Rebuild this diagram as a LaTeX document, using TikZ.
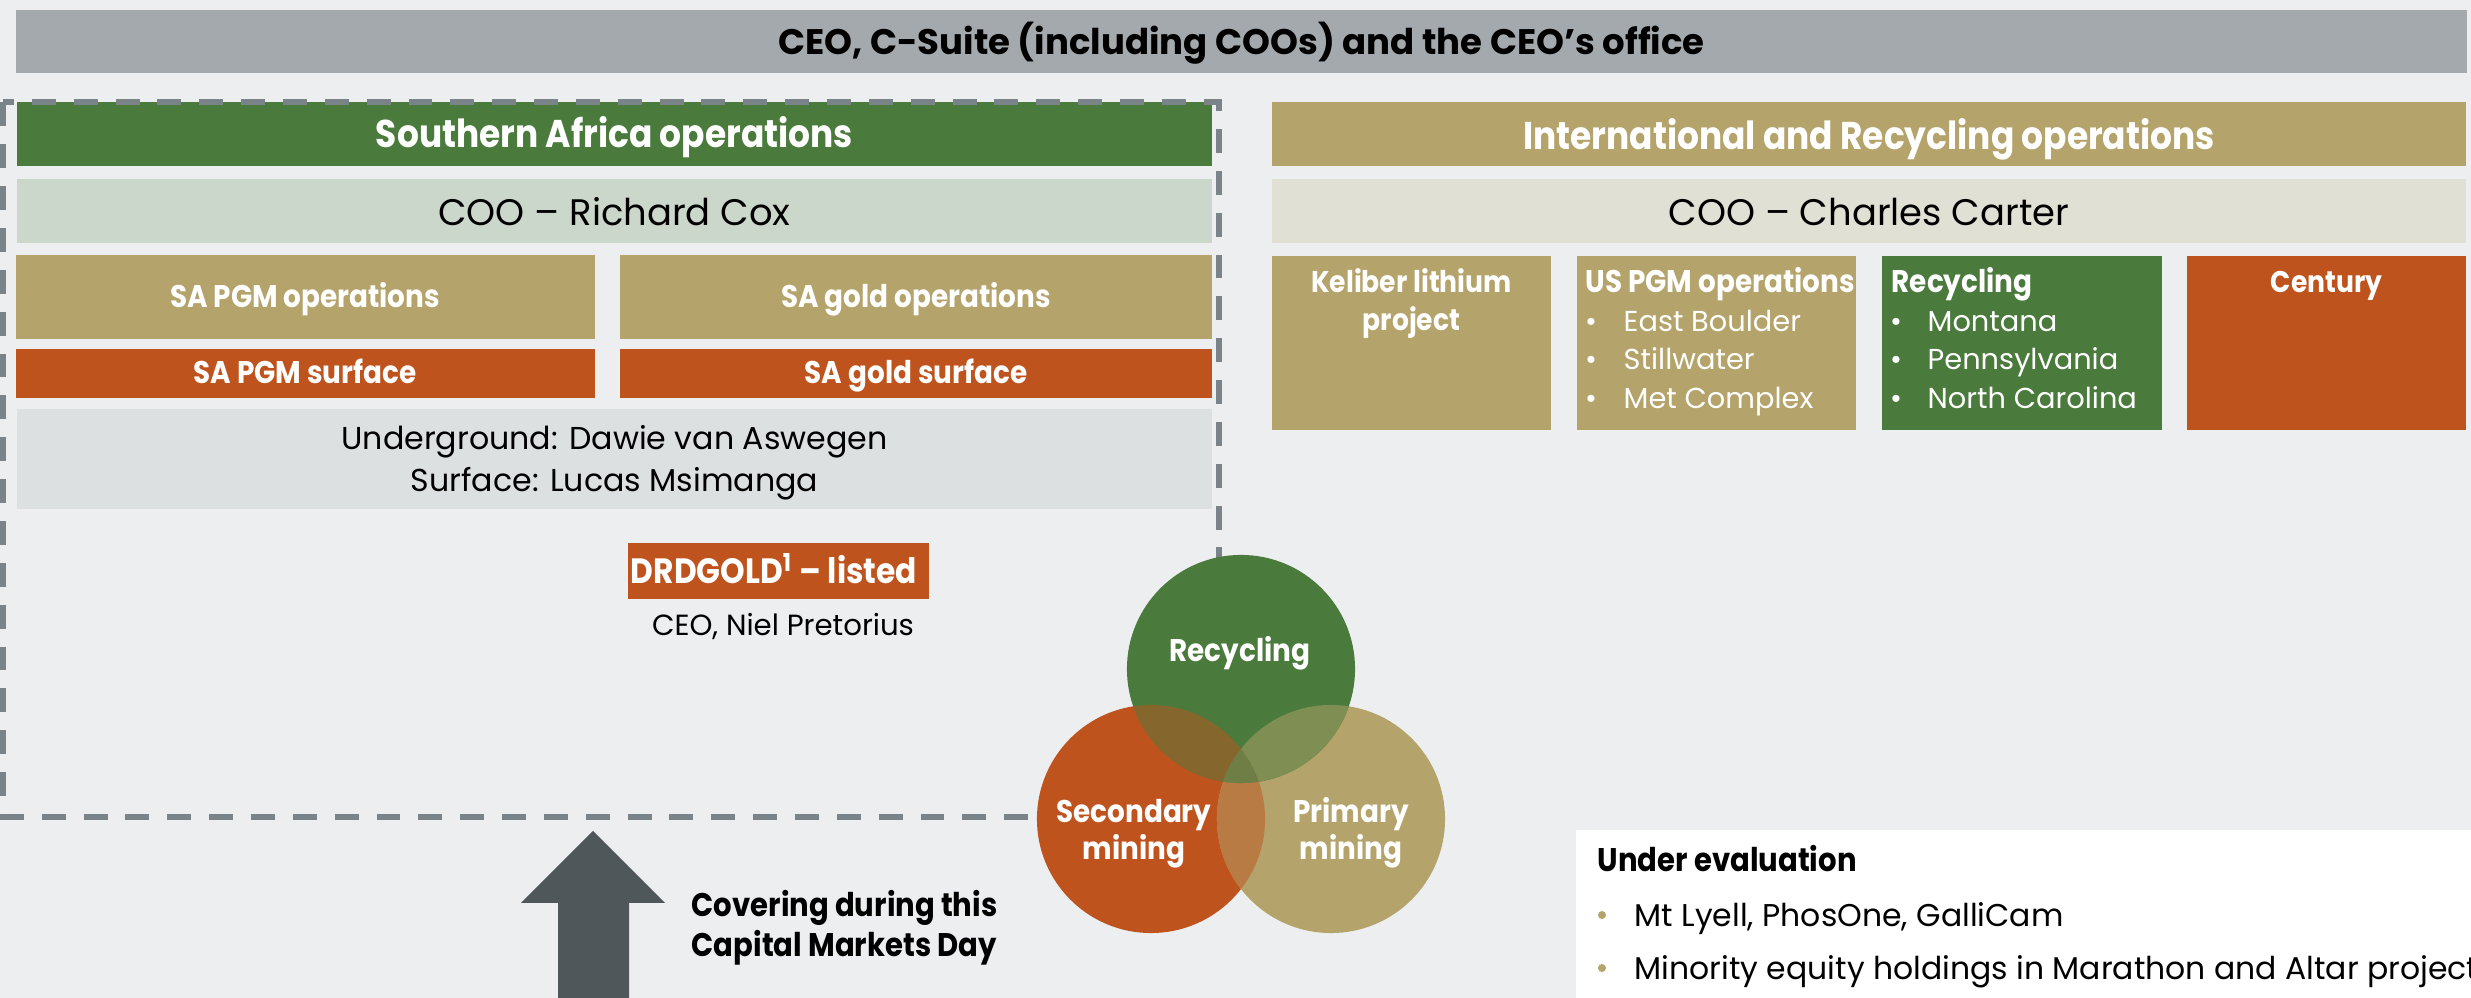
\documentclass[tikz,border=0pt]{standalone}
\usepackage{fontspec}
\setmainfont{Poppins}[BoldFeatures={FakeStretch=0.89}]
\newfontfamily\titlefont{Poppins}
\usetikzlibrary{positioning}

\definecolor{pagebg}{HTML}{EDEEF0}
\definecolor{ceogray}{HTML}{A3A9AC}
\definecolor{opgreen}{HTML}{4A7A3C}
\definecolor{optan}{HTML}{B4A36A}
\definecolor{oporange}{HTML}{BF531D}
\definecolor{coogreen}{HTML}{CCD7CC}
\definecolor{cootan}{HTML}{E0E0D4}
\definecolor{namegray}{HTML}{DCE0E0}
\definecolor{dashgray}{HTML}{7A8388}
\definecolor{arrowgray}{HTML}{50575A}
\colorlet{mixso}{oporange!50!optan}
\colorlet{mixrs}{opgreen!50!oporange}
\colorlet{mixrp}{opgreen!50!optan}
\definecolor{mixall}{HTML}{6E7E45}

\newcommand{\fnTitle}{\titlefont\fontsize{10.1}{12}\selectfont\bfseries}
\newcommand{\fnHead}{\fontsize{11}{13}\selectfont\bfseries}
\newcommand{\fnCoo}{\fontsize{10.5}{13}\selectfont}
\newcommand{\fnTag}{\fontsize{8.9}{10.8}\selectfont\bfseries}
\newcommand{\fnSmallTag}{\fontsize{8.5}{10.8}\selectfont\bfseries}
\newcommand{\fnItem}{\fontsize{8.2}{10}\selectfont}
\newcommand{\fnName}{\fontsize{9}{11}\selectfont}
\newcommand{\fnCeo}{\fontsize{8.3}{10}\selectfont}
\newcommand{\fnCover}{\fontsize{9.3}{11}\selectfont\bfseries}
\newcommand{\fnEval}{\fontsize{9.3}{11}\selectfont\bfseries}
\newcommand{\fnEvalItem}{\fontsize{8.95}{11}\selectfont}

\begin{document}
\begin{tikzpicture}[x=0.01cm, y=-0.01cm,
    panel/.style={inner sep=0pt, outer sep=0pt},
    lbl/.style={inner sep=0pt, anchor=base},
    lblw/.style={inner sep=0pt, anchor=base west},
    venn/.style={circle, inner sep=0pt, minimum size=2.28cm}]
  \useasboundingbox (0,0) rectangle (2471,998);
  \fill[pagebg] (0,0) rectangle (2471,998);

  % Barra do CEO
  \node[panel, fill=ceogray, minimum width=24.49cm, minimum height=0.63cm] (ceo) at (1241.5,41.5) {};
  \node[lbl, font=\fnTitle] (ceot) at (1241.5,55) {CEO, C-Suite (including COOs) and the CEO’s office};

  % Southern Africa
  \node[panel, fill=opgreen, minimum width=11.95cm, minimum height=0.64cm] (sahd) at (614.5,134) {};
  \node[lbl, font=\fnHead, text=white] (sahdt) at (614.5,148) {Southern Africa operations};
  \node[panel, fill=coogreen, minimum width=11.95cm, minimum height=0.64cm] (sacoo) at (614.5,211) {};
  \node[lbl, font=\fnCoo] (sacoot) at (614.5,226) {COO -- Richard Cox};
  \node[panel, fill=optan, minimum width=5.78cm, minimum height=0.84cm] (pgm) at (305.5,297) {};
  \node[lbl, font=\fnTag, text=white] (pgmt) at (305,308) {SA PGM operations};
  \node[panel, fill=optan, minimum width=5.92cm, minimum height=0.84cm] (gold) at (916,297) {};
  \node[lbl, font=\fnTag, text=white] (goldt) at (916,308) {SA gold operations};
  \node[panel, fill=oporange, minimum width=5.78cm, minimum height=0.49cm] (pgms) at (305.5,373.5) {};
  \node[lbl, font=\fnTag, text=white] (pgmst) at (305,384) {SA PGM surface};
  \node[panel, fill=oporange, minimum width=5.92cm, minimum height=0.49cm] (golds) at (916,373.5) {};
  \node[lbl, font=\fnTag, text=white] (goldst) at (916,384) {SA gold surface};
  \node[panel, fill=namegray, minimum width=11.95cm, minimum height=1cm] (heads) at (614.5,459) {};
  \node[lbl, font=\fnName] (headsu) at (614.5,450) {Underground: Dawie van Aswegen};
  \node[lbl, font=\fnName] (headss) at (614.5,492) {Surface: Lucas Msimanga};
  \node[panel, fill=oporange, minimum width=3.01cm, minimum height=0.56cm] (drd) at (778.5,571) {};
  \node[lbl, font=\fontsize{10}{12}\selectfont\bfseries, text=white] (drdt) at (774,584) {DRDGOLD\textsuperscript{1} -- listed};
  \node[lbl, font=\fnCeo] (drdceo) at (783,636) {CEO, Niel Pretorius};

  % International and Recycling
  \node[panel, fill=optan, minimum width=11.94cm, minimum height=0.64cm] (inhd) at (1869,134) {};
  \node[lbl, font=\fnHead, text=white] (inhdt) at (1869,150) {International and Recycling operations};
  \node[panel, fill=cootan, minimum width=11.94cm, minimum height=0.64cm] (incoo) at (1869,211) {};
  \node[lbl, font=\fnCoo] (incoot) at (1869,226) {COO -- Charles Carter};
  \foreach \nm/\cx/\col in {kel/1411.5/optan, uspgm/1716.5/optan, recy/2022/opgreen, cent/2326.5/oporange}
    \node[panel, fill=\col, minimum width=2.79cm, minimum height=1.74cm] (\nm) at (\cx,343) {};
  \node[lbl, font=\fnSmallTag, text=white] (kelt) at (1411.5,293) {Keliber lithium};
  \node[lbl, font=\fnSmallTag, text=white] (kelt2) at (1411.5,331) {project};
  \node[lblw, font=\fnTag, text=white] (uspgmt) at (1585,293) {US PGM operations};
  \foreach \it [count=\i] in {East Boulder, Stillwater, Met Complex} {
    \node[lbl, font=\fnItem, text=white] (uspgmb\i) at (1591,293+38.5*\i) {•};
    \node[lblw, font=\fnItem, text=white] (uspgmi\i) at (1623,293+38.5*\i) {\it};
  }
  \node[lblw, font=\fnTag, text=white] (recyt) at (1891,293) {Recycling};
  \foreach \it [count=\i] in {Montana, Pennsylvania, North Carolina} {
    \node[lbl, font=\fnItem, text=white] (recyb\i) at (1896,293+38.5*\i) {•};
    \node[lblw, font=\fnItem, text=white] (recyi\i) at (1927,293+38.5*\i) {\it};
  }
  \node[lbl, font=\fnSmallTag, text=white] (centt) at (2326.5,293) {Century};

  % Caixa tracejada
  \draw[dashgray, line width=1.7pt, dash pattern=on 6.8pt off 5.1pt] (3,102.5) rectangle (1219,817);

  % Diagrama de Venn
  \foreach \nm/\cx/\cy/\col in {sec/1151/819/oporange, pri/1331/819/optan, rec/1241/669/opgreen}
    \node[venn, fill=\col] (\nm) at (\cx,\cy) {};
  \begin{scope}
    \clip (sec.center) circle (1.14cm);
    \fill[mixso] (pri.center) circle (1.14cm);
  \end{scope}
  \begin{scope}
    \clip (rec.center) circle (1.14cm);
    \fill[mixrs] (sec.center) circle (1.14cm);
    \fill[mixrp] (pri.center) circle (1.14cm);
    \clip (sec.center) circle (1.14cm);
    \fill[mixall] (pri.center) circle (1.14cm);
  \end{scope}
  \node[lbl, font=\fnTag, text=white] (rect) at (1240,662) {Recycling};
  \node[lbl, font=\fnTag, text=white] (sect) at (1134,823) {Secondary};
  \node[lbl, font=\fnTag, text=white] (sect2) at (1134,860) {mining};
  \node[lbl, font=\fnTag, text=white] (prit) at (1351,823) {Primary};
  \node[lbl, font=\fnTag, text=white] (prit2) at (1351,860) {mining};

  % Seta
  \fill[arrowgray] (593,831) -- (665,903) -- (629,903) -- (629,998) -- (558,998) -- (558,903) -- (521,903) -- cycle;
  \node[lblw, font=\fnCover] (covt) at (691,917) {Covering during this};
  \node[lblw, font=\fnCover] (covt2) at (691,957) {Capital Markets Day};

  % Em avaliação
  \node[panel, fill=white, anchor=north west, minimum width=8.95cm, minimum height=1.68cm] (eval) at (1576,830) {};
  \node[lblw, font=\fnEval] (evalt) at (1597,872) {Under evaluation};
  \node[circle, fill=optan, inner sep=0pt, minimum size=0.08cm] (evalb1) at (1602,915) {};
  \node[lblw, font=\fnEvalItem] (evali1) at (1634,927) {Mt Lyell, PhosOne, GalliCam};
  \node[circle, fill=optan, inner sep=0pt, minimum size=0.08cm] (evalb2) at (1602,968) {};
  \node[lblw, font=\fnEvalItem] (evali2) at (1634,980) {Minority equity holdings in Marathon and Altar projects};
\end{tikzpicture}
\end{document}
